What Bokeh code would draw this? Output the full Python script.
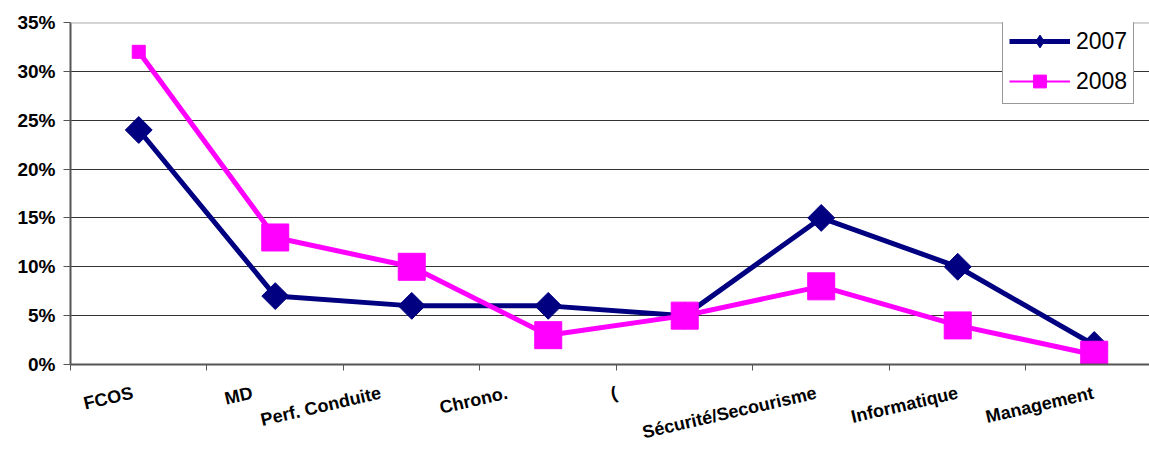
from bokeh.plotting import figure
from bokeh.models import (ColumnDataSource, Range1d, FixedTicker, PrintfTickFormatter,
                          Legend, LegendItem, Span)
from bokeh.embed import file_html
from bokeh.resources import INLINE
import math

# ---------------- data ----------------
categories = ["FCOS", "MD", "Perf. Conduite", "Chrono.", "(",
              "Sécurité/Secourisme", "Informatique", "Management"]
values_2007 = [24, 7, 6, 6, 5, 15, 10, 2]
values_2008 = [32, 13, 10, 3, 5, 8, 4, 1]
y_ticks = [0, 5, 10, 15, 20, 25, 30, 35]
series_names = ["2007", "2008"]

# ---------------- styles ----------------
label_dx_px = [-6, -23, -31, -41, -68, -5, 0, -1]   # horizontal shift of each label
size_2008 = [13, 27, 27, 27, 27, 27, 27, 27]
NAVY = "#000080"
MAGENTA = "#FF00FF"
FONT = "Liberation Sans"
PX_PER_CAT = 136.5

n = len(categories)
xpos = [i + 0.5 for i in range(n)]
src = ColumnDataSource(dict(x=xpos, v07=values_2007, v08=values_2008, s08=size_2008))

p = figure(width=1149, height=455, output_backend="svg", toolbar_location=None,
           x_range=Range1d(0, 7.905), y_range=Range1d(0, 35),
           min_border_left=70, min_border_top=22, min_border_right=0, min_border_bottom=91)
p.outline_line_color = None
p.background_fill_color = "white"
p.border_fill_color = "white"

# x axis: minor ticks = category boundaries (visible), major ticks = label anchors (hidden)
label_ticks = [round(xpos[i] + label_dx_px[i] / PX_PER_CAT, 4) for i in range(n)]
p.xaxis.ticker = FixedTicker(ticks=label_ticks, minor_ticks=list(range(n)))
p.xaxis.major_label_overrides = {label_ticks[i]: categories[i] for i in range(n)}
p.xaxis.major_label_orientation = 0.227
p.xaxis.major_label_standoff = 22
p.xaxis.major_label_text_font = FONT
p.xaxis.major_label_text_font_style = "bold"
p.xaxis.major_label_text_font_size = "18px"
p.xaxis.major_label_text_color = "black"
p.xaxis.major_tick_line_color = None
p.xaxis.major_tick_out = 6
p.xaxis.major_tick_in = 0
p.xaxis.minor_tick_out = 6
p.xaxis.minor_tick_in = 0
p.xaxis.minor_tick_line_color = "#555555"
p.xaxis.axis_line_color = "#555555"
p.xaxis.axis_line_width = 2

p.yaxis.ticker = FixedTicker(ticks=y_ticks)
p.yaxis.formatter = PrintfTickFormatter(format="%d%%")
p.yaxis.major_tick_out = 7
p.yaxis.major_tick_in = 0
p.yaxis.minor_tick_line_color = None
p.yaxis.axis_line_color = "#555555"
p.yaxis.axis_line_width = 2
p.yaxis.major_tick_line_color = "#555555"
p.yaxis.major_label_text_font = FONT
p.yaxis.major_label_text_font_style = "bold"
p.yaxis.major_label_text_font_size = "19px"
p.yaxis.major_label_text_color = "black"
p.yaxis.major_label_standoff = 8

p.xgrid.grid_line_color = None
p.ygrid.ticker = FixedTicker(ticks=y_ticks[1:-1])
p.ygrid.grid_line_color = "#333333"
p.ygrid.grid_line_width = 1
p.add_layout(Span(location=y_ticks[-1], dimension="width", line_color="#aaaaaa", line_width=2))

# series
p.line("x", "v07", source=src, line_color=NAVY, line_width=5)
p.scatter("x", "v07", source=src, marker="square", angle=math.pi / 4, size=19,
          fill_color=NAVY, line_color=NAVY)
p.line("x", "v08", source=src, line_color=MAGENTA, line_width=5)
p.scatter("x", "v08", source=src, marker="square", size="s08",
          fill_color=MAGENTA, line_color=MAGENTA)

# legend (separate legend-only renderers)
nan_src = ColumnDataSource(dict(x=[float("nan")], y=[float("nan")]))
l07 = p.line("x", "y", source=nan_src, line_color=NAVY, line_width=5)
m07 = p.scatter("x", "y", source=nan_src, marker="diamond", fill_color=NAVY, line_color=NAVY)
l08 = p.line("x", "y", source=nan_src, line_color=MAGENTA, line_width=2)
m08 = p.scatter("x", "y", source=nan_src, marker="square", fill_color=MAGENTA, line_color=MAGENTA)

legend = Legend(items=[LegendItem(label=series_names[0], renderers=[l07, m07]),
                       LegendItem(label=series_names[1], renderers=[l08, m08])],
                location=(932, 260), margin=0, padding=6, spacing=8,
                glyph_width=61, glyph_height=32, label_standoff=6,
                label_text_font=FONT, label_text_font_size="23px",
                label_text_color="black",
                border_line_color="#333333", border_line_width=1,
                background_fill_color="white", background_fill_alpha=1)
p.add_layout(legend)

open("out.html", "w").write(file_html(p, INLINE))
